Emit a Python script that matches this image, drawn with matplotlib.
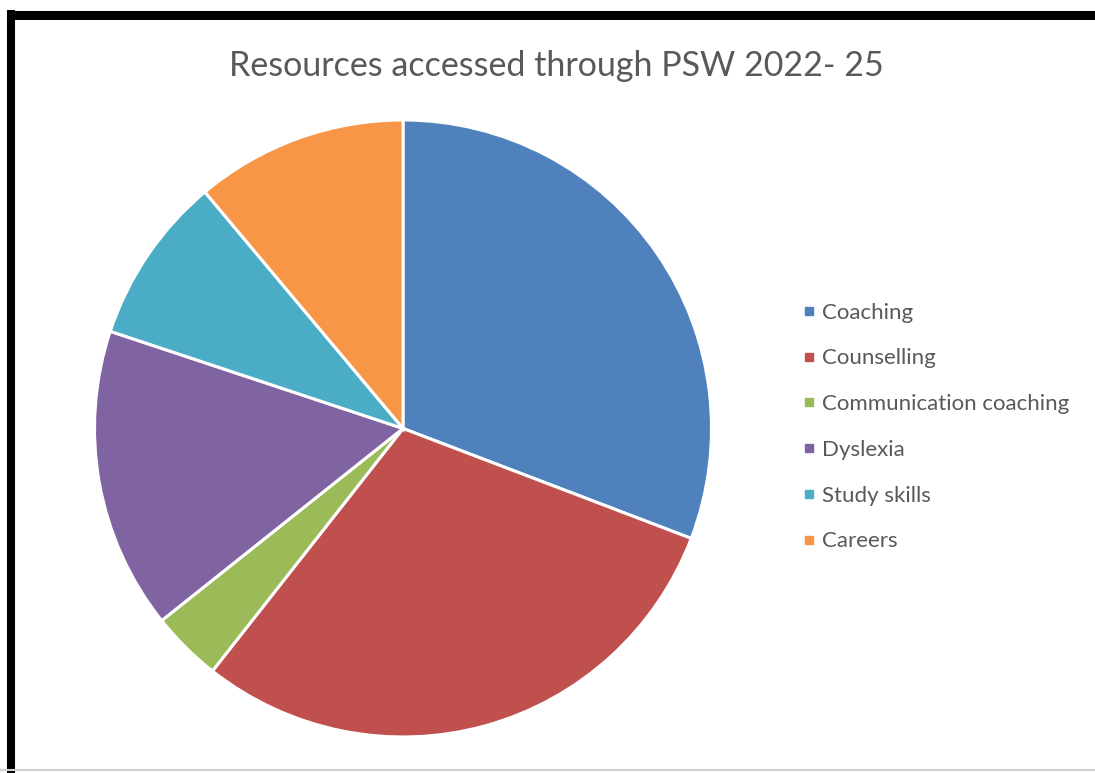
"""
Pie chart of resources accessed through PSW, 2022-25.
"""
import matplotlib.pyplot as plt
from matplotlib.lines import Line2D

OUTPUT = "out.png"

categories = ["Coaching", "Counselling", "Communication coaching",
              "Dyslexia", "Study skills", "Careers"]
shares = [30.8, 29.8, 3.7, 15.8, 8.8, 11.1]

# Office-style palette
COLORS = ["#4F81BD", "#C0504D", "#9BBB59", "#8064A2", "#4BACC6", "#F79646"]
TEXT_COLOR = "#595959"

plt.rcParams['font.family'] = ['Lato', 'DejaVu Sans']


def main():
    fig = plt.figure(figsize=(10.95, 7.73), dpi=100)
    fig.patch.set_facecolor("white")

    ax = fig.add_axes([0.0863, 0.0466, 0.5635, 0.7982])
    ax.pie(shares, colors=COLORS, startangle=90, counterclock=False,
           radius=1.0,
           wedgeprops=dict(edgecolor="white", linewidth=2.2))
    ax.set_xlim(-1.0, 1.0)
    ax.set_ylim(-1.0, 1.0)
    ax.set_aspect("equal")
    ax.axis("off")

    fig.text(0.5085, 0.915, "Resources accessed through PSW 2022- 25",
             ha="center", va="center", fontsize=24.5, color=TEXT_COLOR)

    handles = [Line2D([0], [0], marker="s", linestyle="none",
                      markersize=5.5, markerfacecolor=c, markeredgecolor=c)
               for c in COLORS]
    fig.legend(handles, categories, loc="center left",
               bbox_to_anchor=(0.7225, 0.4476), frameon=False,
               fontsize=16, labelcolor=TEXT_COLOR, handlelength=0.6,
               handletextpad=0.3, labelspacing=1.16, borderpad=0)

    # frame edges around the chart area
    fig.add_artist(Line2D([0.0064, 1.0], [0.9812, 0.9812], color="black",
                          linewidth=6.5, solid_capstyle="butt"))
    fig.add_artist(Line2D([0.0100, 0.0100], [0.0, 0.987], color="black",
                          linewidth=5.8, solid_capstyle="butt"))
    fig.add_artist(Line2D([0.0, 1.0], [0.0045, 0.0045], color="#d0d0d0",
                          linewidth=1.5))

    fig.savefig(OUTPUT, dpi=100)


if __name__ == "__main__":
    main()
